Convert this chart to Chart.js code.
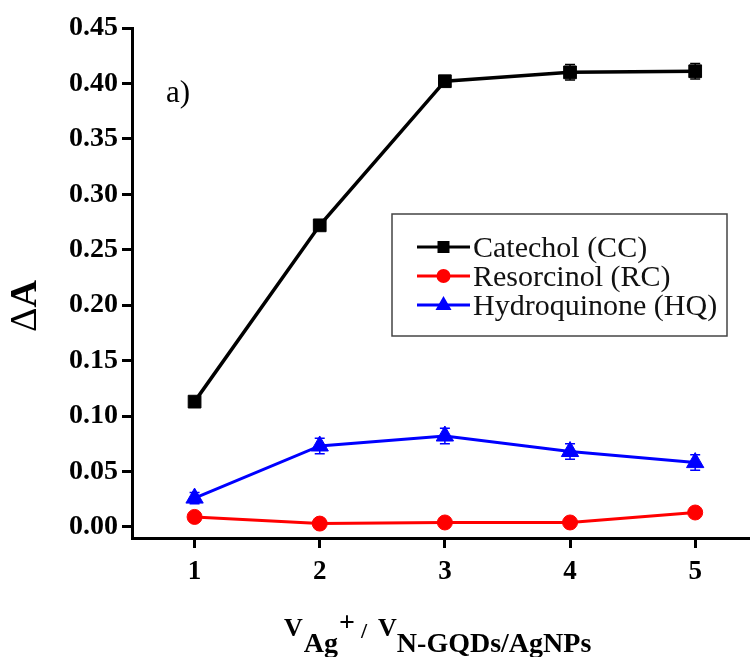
<!DOCTYPE html>
<html>
<head>
<meta charset="utf-8">
<script src="https://cdn.jsdelivr.net/npm/chart.js@4.4.1/dist/chart.umd.min.js"></script>
<style>
  html, body { margin: 0; padding: 0; background: #fff; overflow: hidden; }
  #wrap { width: 750px; height: 657px; overflow: hidden; }
</style>
</head>
<body>
<div id="wrap"><canvas id="deltaChart" width="760" height="657"></canvas></div>
<script>
// ratio V(Ag+) / V(N-GQDs/AgNPs)
const ratios = [1, 2, 3, 4, 5];
const xTicks = [1, 2, 3, 4, 5];
const yTicks = [0, 0.05, 0.10, 0.15, 0.20, 0.25, 0.30, 0.35, 0.40, 0.45];

// delta A values
const catechol = [0.113, 0.272, 0.402, 0.410, 0.411];
const resorcinol = [0.009, 0.003, 0.004, 0.004, 0.013];
const hydroquinone = [0.026, 0.073, 0.082, 0.068, 0.058];

// error bars (+/-)
const catecholErr = [0.003, 0.003, 0.004, 0.007, 0.007];
const resorcinolErr = [0.002, 0.002, 0.002, 0.002, 0.002];
const hydroquinoneErr = [0.005, 0.007, 0.007, 0.007, 0.007];

const serif = "'Liberation Serif', 'Times New Roman', serif";

function pts(vals) {
    return ratios.map((x, i) => ({ x: x, y: vals[i] }));
}

// error bars drawn with the chart scales, under the markers
const errorBars = {
    id: "errorBars",
    beforeDatasetsDraw(chart) {
        const ctx = chart.ctx;
        const xs = chart.scales.x, ys = chart.scales.y;
        chart.data.datasets.forEach((ds) => {
            ctx.save();
            ctx.strokeStyle = ds.borderColor;
            ctx.lineWidth = 1.5;
            ds.data.forEach((p, i) => {
                const e = ds.errors[i];
                const px = xs.getPixelForValue(p.x);
                const top = ys.getPixelForValue(p.y + e);
                const bot = ys.getPixelForValue(p.y - e);
                ctx.beginPath();
                ctx.moveTo(px, top); ctx.lineTo(px, bot);
                ctx.moveTo(px - 5, top); ctx.lineTo(px + 5, top);
                ctx.moveTo(px - 5, bot); ctx.lineTo(px + 5, bot);
                ctx.stroke();
            });
            ctx.restore();
        });
    }
};

// titles, panel label and the boxed legend
const decorations = {
    id: "decorations",
    afterDraw(chart) {
        const ctx = chart.ctx;
        const area = chart.chartArea;
        ctx.save();
        ctx.fillStyle = "#000";
        ctx.textBaseline = "alphabetic";

        // panel label
        ctx.font = "31px " + serif;
        ctx.textAlign = "left";
        ctx.fillText("a)", area.left + 34, area.top + 74);

        // y title: ΔA (Δ plain, A bold)
        ctx.save();
        ctx.translate(36, 306);
        ctx.rotate(-Math.PI / 2);
        ctx.font = "38px " + serif;
        const wD = ctx.measureText("\u0394").width;
        ctx.font = "bold 38px " + serif;
        const wA = ctx.measureText("A").width;
        let sx = -(wD + wA) / 2;
        ctx.font = "38px " + serif;
        ctx.fillText("\u0394", sx, 0);
        ctx.font = "bold 38px " + serif;
        ctx.fillText("A", sx + wD, 0);
        ctx.restore();

        // x title: V_Ag^+ / V_N-GQDs/AgNPs
        const parts = [
            { t: "V", f: "bold 26px", y: 636, gap: 1 },
            { t: "Ag", f: "bold 28px", y: 652, gap: 1 },
            { t: "+", f: "bold 28px", y: 631, gap: 6 },
            { t: "/", f: "bold 22px", y: 638, gap: 11 },
            { t: "V", f: "bold 26px", y: 636, gap: 0 },
            { t: "N-GQDs/AgNPs", f: "bold 28px", y: 652, gap: 0 }
        ];
        let x = 284;
        parts.forEach((p) => {
            ctx.font = p.f + " " + serif;
            ctx.fillText(p.t, x, p.y);
            x += ctx.measureText(p.t).width + p.gap;
        });

        // legend box
        const bx = area.left + 260, by = area.top + 186, bw = 335, bh = 122;
        ctx.strokeStyle = "#444";
        ctx.lineWidth = 1.5;
        ctx.strokeRect(bx, by, bw, bh);
        chart.data.datasets.forEach((ds, i) => {
            const ly = by + 33 + i * 29;
            const lx0 = bx + 25, lx1 = bx + 78;
            ctx.strokeStyle = ds.borderColor;
            ctx.lineWidth = 3;
            ctx.beginPath();
            ctx.moveTo(lx0, ly); ctx.lineTo(lx1, ly);
            ctx.stroke();
            ctx.fillStyle = ds.backgroundColor;
            const cx = (lx0 + lx1) / 2;
            ctx.beginPath();
            if (ds.pointStyle === "rect") {
                ctx.rect(cx - 6, ly - 6, 12, 12);
            } else if (ds.pointStyle === "circle") {
                ctx.arc(cx, ly, 7, 0, Math.PI * 2);
            } else {
                ctx.moveTo(cx, ly - 9); ctx.lineTo(cx + 8, ly + 5); ctx.lineTo(cx - 8, ly + 5);
                ctx.closePath();
            }
            ctx.fill();
            ctx.fillStyle = "#111";
            ctx.font = "30px " + serif;
            ctx.fillText(ds.label, lx1 + 3, ly + 10);
        });
        ctx.restore();
    }
};

const ctx = document.getElementById("deltaChart").getContext("2d");
const deltaChart = new Chart(ctx, {
    type: "line",
    data: {
        datasets: [
            {
                label: "Catechol (CC)",
                data: pts(catechol),
                errors: catecholErr,
                borderColor: "#000000",
                backgroundColor: "#000000",
                borderWidth: 3.5,
                pointStyle: "rect",
                pointRadius: 9,
                pointBorderWidth: 1,
                tension: 0
            },
            {
                label: "Resorcinol (RC)",
                data: pts(resorcinol),
                errors: resorcinolErr,
                borderColor: "#ff0000",
                backgroundColor: "#ff0000",
                borderWidth: 3,
                pointStyle: "circle",
                pointRadius: 7.5,
                pointBorderWidth: 1,
                tension: 0
            },
            {
                label: "Hydroquinone (HQ)",
                data: pts(hydroquinone),
                errors: hydroquinoneErr,
                borderColor: "#0000ff",
                backgroundColor: "#0000ff",
                borderWidth: 3,
                pointStyle: "triangle",
                pointRadius: 10,
                pointBorderWidth: 1,
                tension: 0
            }
        ]
    },
    options: {
        responsive: false,
        animation: false,
        layout: { padding: { top: 28, right: 0, left: 0, bottom: 0 } },
        plugins: {
            legend: { display: false },
            tooltip: { enabled: false }
        },
        scales: {
            x: {
                type: "linear",
                min: 0.5,
                max: 5.43,
                afterBuildTicks: (axis) => { axis.ticks = xTicks.map((v) => ({ value: v })); },
                afterFit: (axis) => { axis.height = 119; },
                border: { display: true, width: 3, color: "#000" },
                grid: { drawOnChartArea: false, drawTicks: true, tickLength: 10, tickWidth: 3, tickColor: "#000" },
                ticks: {
                    color: "#000",
                    padding: 8,
                    font: { family: serif, size: 27, weight: "bold" },
                    callback: (v) => String(v)
                }
            },
            y: {
                min: -0.01,
                max: 0.45,
                afterBuildTicks: (axis) => { axis.ticks = yTicks.map((v) => ({ value: v })); },
                afterFit: (axis) => { axis.width = 132; },
                border: { display: true, width: 3, color: "#000" },
                grid: { drawOnChartArea: false, drawTicks: true, tickLength: 10, tickWidth: 3, tickColor: "#000" },
                ticks: {
                    color: "#000",
                    padding: 4,
                    font: { family: serif, size: 28, weight: "bold" },
                    callback: (v) => v.toFixed(2)
                }
            }
        }
    },
    plugins: [errorBars, decorations]
});
</script>
</body>
</html>
